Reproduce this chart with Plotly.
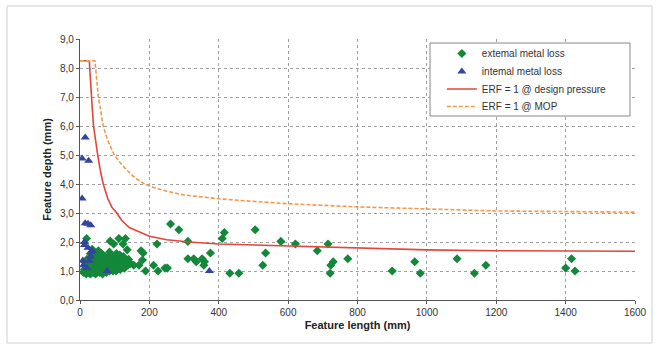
import plotly.graph_objects as go

# External metal loss (green diamonds)
ext_x = [10, 12, 15, 18, 20, 22, 24, 25, 27, 28, 30, 32, 33, 35, 36, 38, 40, 41, 42, 44,
         45, 46, 48, 50, 52, 53, 55, 56, 58, 60, 61, 62, 64, 65, 67, 68, 70, 72, 73, 75,
         76, 78, 80, 82, 83, 85, 86, 88, 90, 91, 92, 94, 95, 96, 98, 100, 101, 103, 104, 105,
         107, 108, 110, 112, 113, 115, 116, 118, 120, 121, 123, 125, 127, 128, 130, 132, 135, 138, 140, 142,
         145, 30, 20, 14, 35, 47, 66, 85,
         19, 87, 97, 112, 131, 124, 136,
         176, 182, 180, 155, 170, 189, 212, 222, 225, 245, 252, 261, 285, 311, 311, 328, 335, 352, 357, 359,
         376, 410, 416, 432, 458, 505, 527, 535, 579, 621, 684, 715, 721, 723, 730, 772, 900, 965, 981, 1087,
         1137, 1170, 1400, 1417, 1427]
ext_y = [0.95, 1.05, 1.2, 0.9, 1.0, 1.1, 1.3, 0.95, 1.15, 1.05, 0.9, 1.25, 1.0, 1.4, 1.1, 0.95, 1.2, 1.6, 1.05, 1.3,
         0.9, 1.5, 1.15, 1.0, 1.35, 1.7, 1.1, 0.95, 1.25, 1.45, 1.05, 1.6, 1.2, 0.9, 1.3, 1.0, 1.15, 1.4, 1.05, 1.25,
         0.95, 1.35, 1.1, 1.5, 1.2, 1.0, 1.3, 1.4, 1.15, 1.05, 1.25, 1.35, 1.0, 1.5, 1.2, 1.1, 1.4, 1.3, 1.0, 1.6,
         1.2, 1.45, 1.1, 1.35, 1.25, 1.55, 1.05, 1.3, 1.4, 1.15, 1.2, 1.5, 1.3, 1.1, 1.4, 1.25, 1.35, 1.2, 1.4, 1.3,
         1.25, 1.6, 1.4, 1.3, 1.75, 1.45, 1.55, 1.65,
         2.12, 2.03, 1.93, 2.12, 2.12, 1.93, 1.73,
         1.7, 1.62, 1.38, 1.2, 1.2, 1.0, 1.2, 1.93, 1.0, 1.1, 1.1, 2.62, 2.42, 2.02, 1.42, 1.42, 1.32, 1.42, 1.2, 1.32,
         1.62, 2.12, 2.33, 0.92, 0.92, 2.42, 1.2, 1.62, 2.02, 1.93, 1.7, 1.93, 0.92, 1.2, 1.32, 1.42, 1.0, 1.32, 0.92, 1.42,
         0.92, 1.2, 1.1, 1.42, 1.0]

# Internal metal loss (blue triangles)
int_x = [15, 6, 25, 6, 15, 23, 31, 13, 23, 8, 32, 36, 27, 13, 78, 373, 10, 20, 30]
int_y = [5.6, 4.88, 4.8, 3.5, 2.65, 2.63, 2.58, 1.9, 1.8, 1.36, 1.65, 1.7, 1.35, 2.0, 1.0, 1.0, 1.2, 1.1, 1.5]

# ERF = 1 @ design pressure
dp_x = [0, 27, 28, 30, 33, 36, 39, 44, 51, 58, 67, 80, 92, 106, 120, 142, 170, 200, 250, 315, 400, 500, 600,
        800, 1000, 1200, 1600]
dp_y = [8.25, 8.25, 8.0, 7.5, 7.0, 6.5, 6.0, 5.5, 5.0, 4.5, 4.0, 3.5, 3.2, 3.0, 2.75, 2.5, 2.35, 2.2, 2.08, 2.0,
        1.93, 1.9, 1.87, 1.79, 1.73, 1.70, 1.68]

# ERF = 1 @ MOP
mop_x = [0, 43, 45, 48, 53, 60, 67, 80, 99, 115, 133, 160, 186, 220, 250, 300, 400, 500, 600, 800, 1000, 1200, 1600]
mop_y = [8.25, 8.25, 8.0, 7.6, 7.0, 6.5, 6.0, 5.5, 5.0, 4.75, 4.5, 4.2, 4.0, 3.85, 3.75, 3.62, 3.49, 3.4, 3.32,
         3.21, 3.14, 3.07, 3.03]

FONT = "Liberation Sans, Arial"

fig = go.Figure()
fig.add_trace(go.Scatter(x=ext_x, y=ext_y, mode="markers", name="extemal metal loss", legend="legend",
                         marker=dict(symbol="diamond", size=7, color="#14883a")))
fig.add_trace(go.Scatter(x=int_x, y=int_y, mode="markers", name="intemal metal loss", legend="legend2",
                         marker=dict(symbol="triangle-up", size=8, color="#34459e")))
fig.add_trace(go.Scatter(x=dp_x, y=dp_y, mode="lines", name="ERF = 1 @ design pressure", legend="legend3",
                         line=dict(color="#e2463c", width=1.6)))
fig.add_trace(go.Scatter(x=mop_x, y=mop_y, mode="lines", name="ERF = 1 @ MOP", legend="legend4",
                         line=dict(color="#f09a4c", width=1.6, dash="4px,2px")))

axis_common = dict(showgrid=True, gridcolor="#a0a0a0", griddash="dot", gridwidth=1,
                   showline=True, linecolor="#555555", linewidth=1.2,
                   ticks="outside", ticklen=3, tickcolor="#555555",
                   tickfont=dict(family=FONT, size=10, color="#333333"),
                   zeroline=False, mirror=False)

fig.update_xaxes(range=[0, 1600], dtick=200, **axis_common,
                 title=dict(text="<b>Feature length (mm)</b>", standoff=4,
                            font=dict(family=FONT, size=11, color="#222222")))
fig.update_yaxes(range=[0, 9], dtick=1, tickformat=".1f", **axis_common,
                 title=dict(text="<b>Feature depth (mm)</b>", standoff=6,
                            font=dict(family=FONT, size=11, color="#222222")))

# outer frame
fig.add_shape(type="rect", xref="paper", yref="paper", x0=-0.1315, x1=1.0306, y0=-0.1648, y1=1.1264,
              line=dict(color="#cfcfcf", width=1), layer="below")
# legend box
fig.add_shape(type="rect", xref="paper", yref="paper", x0=(430 - 80) / 555, x1=(630 - 80) / 555,
              y0=(300 - 116) / 261, y1=(300 - 43) / 261,
              line=dict(color="#888888", width=1), fillcolor="white", layer="above")


def leg(ycenter_px):
    return dict(x=0.652, y=(300 - ycenter_px) / 261, xanchor="left", yanchor="middle",
                bgcolor="rgba(0,0,0,0)", borderwidth=0,
                font=dict(family=FONT, size=10, color="#333333"), itemwidth=30)


fig.update_layout(
    width=660, height=348,
    margin=dict(l=80, r=25, t=39, b=48),
    paper_bgcolor="white", plot_bgcolor="white",
    separators=",.",
    showlegend=True,
    legend=leg(53.5), legend2=leg(71.5), legend3=leg(89), legend4=leg(106.5),
    font=dict(family=FONT),
)

fig.write_html("out.html")
